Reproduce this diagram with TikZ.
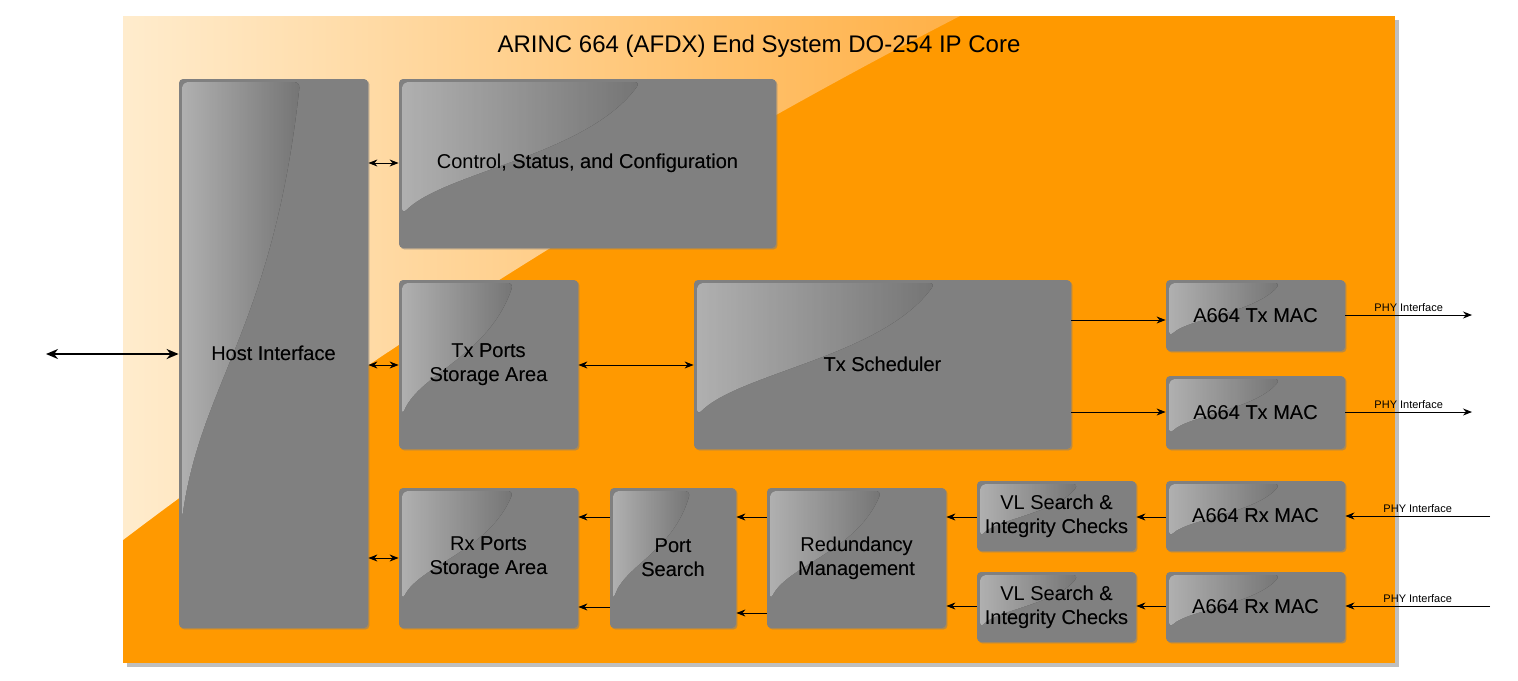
\documentclass[tikz,border=0pt]{standalone}
\usepackage{fontspec}
\setmainfont{Liberation Sans}
\usetikzlibrary{arrows.meta,shadows}
\definecolor{aorange}{HTML}{FF9900}
\definecolor{boxgray}{HTML}{808080}
\definecolor{glight}{RGB}{255,236,205}
\definecolor{gmid}{RGB}{255,176,70}
\tikzset{
 box/.style={fill=boxgray,rounded corners=2pt,draw=none,inner sep=0pt,align=center,font=\fontsize{10}{12}\selectfont,text=black,
   drop shadow={opacity=0.35,shadow xshift=0.7pt,shadow yshift=-0.7pt}},
 gloss/.style={left color=white!92!black,right color=boxgray,fill opacity=0.85,rounded corners=3pt},
 ar/.style={-{Stealth[length=4.5pt,width=3.5pt]},line width=0.5pt},
 dar/.style={{Stealth[length=4.5pt,width=3.5pt]}-{Stealth[length=4.5pt,width=3.5pt]},line width=0.5pt},
 phy/.style={font=\fontsize{5.5}{6}\selectfont,above,inner sep=1.5pt}
}
\newcommand\gbox[6]{%
 \node[box,minimum width={(#4-#2)*0.5pt},minimum height={(#5-#3)*0.5pt}] (#1) at ({(#2+#4)/2},{(#3+#5)/2}) {#6};
 \fill[gloss] ({#2+3},{#3+3}) -- ({#2+0.64*(#4-#2)},{#3+3}) .. controls ({#2+0.5*(#4-#2)},{#3+0.45*(#5-#3)}) and ({#2+0.12*(#4-#2)},{#3+0.55*(#5-#3)}) .. ({#2+3},{#3+0.8*(#5-#3)}) -- cycle;
 \node[box,fill=none,drop shadow={opacity=0},minimum width={(#4-#2)*0.5pt},minimum height={(#5-#3)*0.5pt}] at ({(#2+#4)/2},{(#3+#5)/2}) {#6};
}
\begin{document}
\begin{tikzpicture}[x=0.5pt,y=-0.5pt]
\useasboundingbox (0,0) rectangle (1518,680);
\fill[black!25] (127,20) rectangle (1399,667);
\node[fill=aorange,inner sep=0pt,minimum width=636pt,minimum height=323.5pt] (core) at (759,339.5) {};
\shade[shading angle=-60,left color=glight,right color=gmid] (123,16) -- (960,16) .. controls (700,150) and (400,330) .. (123,540) -- cycle;
\node[font=\fontsize{12}{14}\selectfont] (title) at (759,46) {ARINC 664 (AFDX) End System DO-254 IP Core};
\gbox{host}{179}{79}{368}{628}{Host Interface}
\gbox{ctrl}{399}{79}{776}{248}{Control, Status, and Configuration}
\gbox{txp}{399}{280}{578}{449}{Tx Ports\\Storage Area}
\gbox{txs}{694}{280}{1071}{449}{Tx Scheduler}
\gbox{txm1}{1166}{280}{1345}{351}{A664 Tx MAC}
\gbox{txm2}{1166}{376}{1345}{449}{A664 Tx MAC}
\gbox{rxp}{399}{488}{578}{628}{Rx Ports\\Storage Area}
\gbox{ps}{610}{488}{736}{628}{Port\\Search}
\gbox{rm}{767}{488}{946}{628}{Redundancy\\Management}
\gbox{vl1}{977}{481}{1136}{551}{VL Search \&\\Integrity Checks}
\gbox{vl2}{977}{572}{1136}{642}{VL Search \&\\Integrity Checks}
\gbox{rxm1}{1166}{481}{1345}{551}{A664 Rx MAC}
\gbox{rxm2}{1166}{572}{1345}{642}{A664 Rx MAC}
\coordinate (ext) at (46,354);
\coordinate (o1) at (1472,315); \coordinate (o2) at (1472,412);
\coordinate (i1) at (1490,516); \coordinate (i2) at (1490,606);
\draw[{Stealth[length=6pt,width=5pt]}-{Stealth[length=6pt,width=5pt]},line width=1.2pt] (ext) -- (ext-|host.west);
\draw[dar] (host.east|-0,163) -- (ctrl.west|-0,163);
\draw[dar] (host.east|-0,365) -- (txp.west|-0,365);
\draw[dar] (host.east|-0,558) -- (rxp.west|-0,558);
\draw[dar] (txp.east|-0,365) -- (txs.west|-0,365);
\draw[ar] (txs.east|-0,320) -- (txm1.west|-0,320);
\draw[ar] (txs.east|-0,412) -- (txm2.west|-0,412);
\draw[ar] (txm1.east|-o1) -- node[phy]{PHY Interface} (o1);
\draw[ar] (txm2.east|-o2) -- node[phy]{PHY Interface} (o2);
\draw[ar] (i1) -- node[phy]{PHY Interface} (rxm1.east|-i1);
\draw[ar] (i2) -- node[phy]{PHY Interface} (rxm2.east|-i2);
\draw[ar] (rxm1.west|-0,517) -- (vl1.east|-0,517);
\draw[ar] (rxm2.west|-0,606) -- (vl2.east|-0,606);
\draw[ar] (vl1.west|-0,517) -- (rm.east|-0,517);
\draw[ar] (vl2.west|-0,606) -- (rm.east|-0,606);
\draw[ar] (rm.west|-0,517) -- (ps.east|-0,517);
\draw[ar] (rm.west|-0,613) -- (ps.east|-0,613);
\draw[ar] (ps.west|-0,517) -- (rxp.east|-0,517);
\draw[ar] (ps.west|-0,607) -- (rxp.east|-0,607);
\end{tikzpicture}
\end{document}
